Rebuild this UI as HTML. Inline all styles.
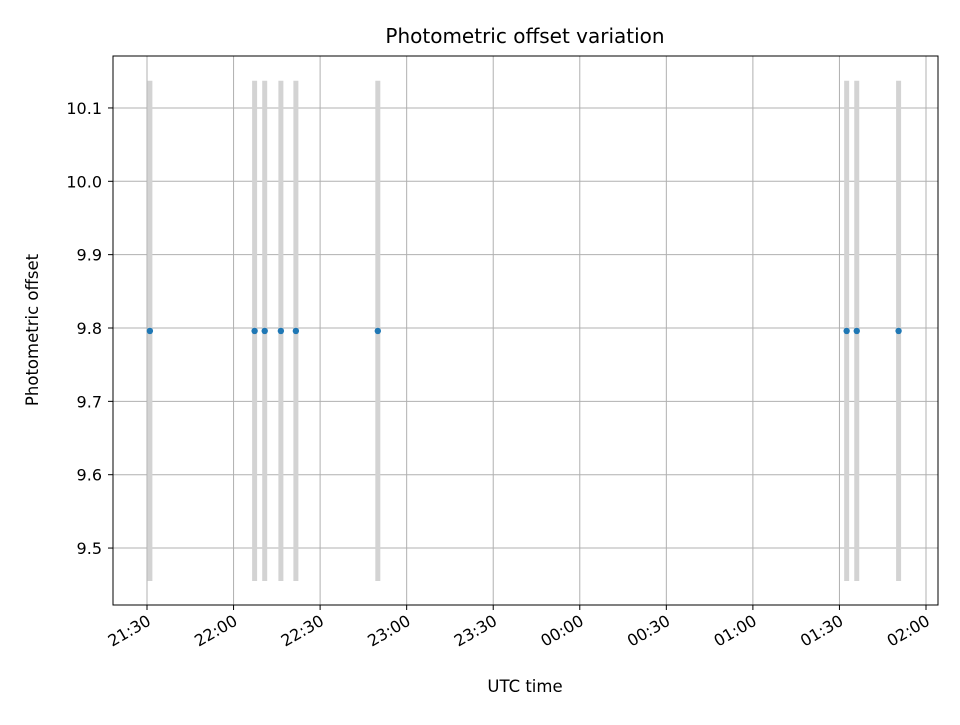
<!DOCTYPE html>
<html><head><meta charset="utf-8"><style>
body{margin:0;background:#fff;}
svg text{font-family:"DejaVu Sans","Liberation Sans",sans-serif;}
</style></head><body>
<svg id="chart" width="960" height="720" xmlns="http://www.w3.org/2000/svg">
<rect width="960" height="720" fill="#fff"/>
<g id="grid"></g>
<g id="bars"></g>
<g id="pts"></g>
<rect x="113" y="56" width="825" height="549" fill="none" stroke="#000" stroke-width="1"/>
<g id="axes"></g>
<text x="525" y="43" text-anchor="middle" font-size="20">Photometric offset variation</text>
<text x="525" y="692" text-anchor="middle" font-size="16.5">UTC time</text>
<text x="38" y="330" text-anchor="middle" font-size="16.5" transform="rotate(-90 38 330)">Photometric offset</text>
</svg>
<script>
// minutes after 21:30 UTC
const times=[1.0,37.3,40.8,46.4,51.6,80.0,242.5,246.0,260.5];
const values=[9.796,9.796,9.796,9.796,9.796,9.796,9.796,9.796,9.796];
const errors=[0.341,0.341,0.341,0.341,0.341,0.341,0.341,0.341,0.341];
const xTickLabels=["21:30","22:00","22:30","23:00","23:30","00:00","00:30","01:00","01:30","02:00"];
const xTickMinutes=[0,30,60,90,120,150,180,210,240,270];
const yTicks=[9.5,9.6,9.7,9.8,9.9,10.0,10.1];
const ns="http://www.w3.org/2000/svg";
const X=m=>147+m*(926-147)/270;
const Y=v=>328-(v-9.8)*733.5;
function mk(t,a,p){const e=document.createElementNS(ns,t);for(const k in a)e.setAttribute(k,a[k]);p.appendChild(e);return e;}
const grid=document.getElementById('grid'),axes=document.getElementById('axes');
xTickMinutes.forEach((m,i)=>{const x=X(m);
 const g=mk('line',{x1:x,x2:x,y1:56,y2:605,stroke:'#b0b0b0','stroke-width':1},grid);
 
 const t=mk('line',{x1:x,x2:x,y1:605,y2:610,stroke:'#000'},axes);
 
 const l=mk('text',{x:x+5,y:624,'text-anchor':'end','font-size':16,transform:`rotate(-30 ${x+5} 624)`},axes);
 l.textContent=xTickLabels[i];
 
});
yTicks.forEach(v=>{const y=Y(v);
 const g=mk('line',{x1:113,x2:938,y1:y,y2:y,stroke:'#b0b0b0','stroke-width':1},grid);
 
 const t=mk('line',{x1:108,x2:113,y1:y,y2:y,stroke:'#000'},axes);
 
 const l=mk('text',{x:102,y:y+6,'text-anchor':'end','font-size':16},axes);
 l.textContent=v.toFixed(1);
 
});
const bars=document.getElementById('bars'),pts=document.getElementById('pts');
times.forEach((m,i)=>{const x=X(m);
 const b=mk('line',{x1:x,x2:x,y1:Y(values[i]+errors[i]),y2:Y(values[i]-errors[i]),stroke:'#d3d3d3','stroke-width':5},bars);
 
 const c=mk('circle',{cx:x,cy:Y(values[i]),r:3.2,fill:'#1f77b4'},pts);
 
});
</script>
</body></html>
